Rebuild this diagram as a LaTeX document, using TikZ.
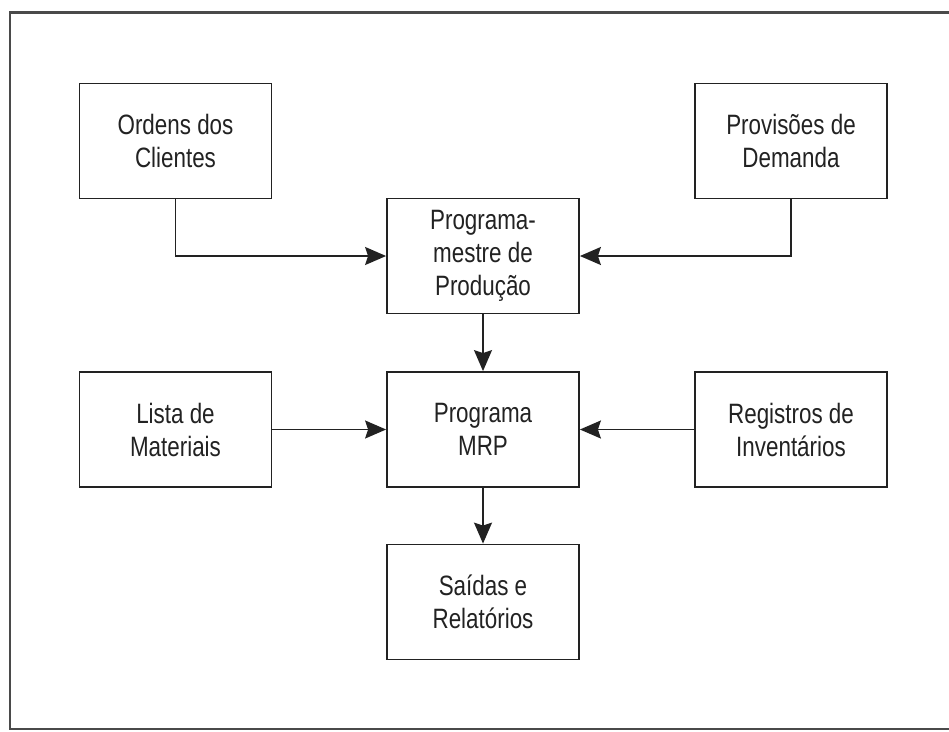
\documentclass[tikz,border=0pt]{standalone}
\usepackage{fontspec}
\setmainfont{Liberation Sans}[FakeStretch=0.8]
\usetikzlibrary{arrows.meta}
\definecolor{ink}{HTML}{222222}
\definecolor{framegray}{HTML}{4A4A4A}
\begin{document}
\begin{tikzpicture}[x=1pt,y=-1pt,
  blockbox/.style={draw=ink, line width=1.8pt, minimum width=192pt, minimum height=115pt,
    inner sep=0pt, align=center, text=ink,
    font=\fontsize{28}{33}\selectfont},
  flow/.style={draw=ink, line width=1.8pt,
    -{Stealth[length=21pt,width=18pt,inset=3pt]}}]
  \useasboundingbox (0,0) rectangle (949,731);
  % outer frame (open on the right side)
  \draw[framegray, line width=2.6pt] (949,12.5) -- (10,12.5) -- (10,729) -- (949,729);

  % blocks
  \node[blockbox] (ordens)    at (175.5,141) {Ordens dos\\Clientes};
  \node[blockbox] (provisoes) at (791,141)   {Provisões de\\Demanda};
  \node[blockbox] (mestre)    at (483,256)   {Programa-\\mestre de\\Produção};
  \node[blockbox] (lista)     at (175.5,429.5) {Lista de\\Materiais};
  \node[blockbox] (mrp)       at (483,429.5) {Programa\\MRP};
  \node[blockbox] (registros) at (791,429.5) {Registros de\\Inventários};
  \node[blockbox] (saidas)    at (483,602)   {Saídas e\\Relatórios};

  % connectors
  \draw[flow] (ordens.south) |- (mestre.west);
  \draw[flow] (provisoes.south) |- (mestre.east);
  \draw[flow] (mestre) -- (mrp);
  \draw[flow] (lista) -- (mrp);
  \draw[flow] (registros) -- (mrp);
  \draw[flow] (mrp) -- (saidas);
\end{tikzpicture}
\end{document}
